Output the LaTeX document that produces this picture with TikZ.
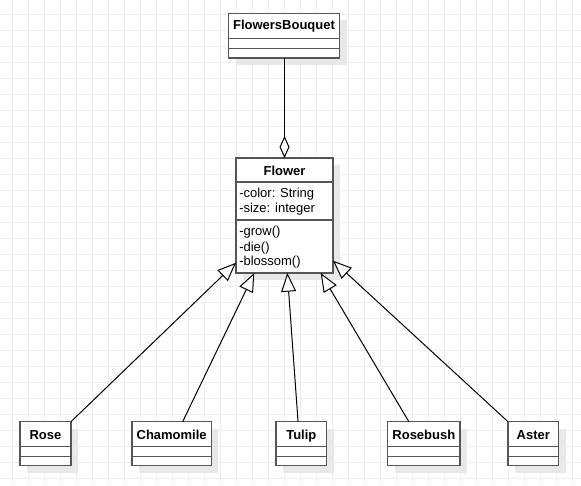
\documentclass[tikz,border=0pt]{standalone}
\usepackage{fontspec}
\setmainfont{Liberation Sans}
\usetikzlibrary{arrows.meta,calc,fit}
\definecolor{gridc}{RGB}{238,238,238}
\definecolor{shadc}{RGB}{232,232,232}
\definecolor{boxc}{RGB}{85,85,85}
\tikzset{
 clsbox/.style={draw=boxc, line width=1.1pt, fill=white, inner sep=0pt, outer sep=0pt},
 sepline/.style={draw=boxc, line width=1.1pt},
 ttl/.style={font=\fontsize{9.75pt}{11pt}\selectfont\bfseries, inner sep=0pt, anchor=base},
 member/.style={font=\fontsize{9.75pt}{11pt}\selectfont, inner sep=0pt, anchor=base west},
 gen/.style={line width=0.75pt, -{Triangle[open, length=14pt, width=11.25pt, fill=white]}},
 agg/.style={line width=0.75pt, -{Diamond[open, length=16.5pt, width=7.5pt, fill=white]}},
 gridline/.style={draw=gridc, line width=0.75pt},
}
\newcommand\umlclass[9]{%
  \fill[shadc] (#2+7,#3+7) rectangle (#4+7,#5+7);
  \node[clsbox, fit={(#2,#3) (#4,#5)}] (#1) {};
  \draw[sepline] (#2,#6) -- (#4,#6);
  \draw[sepline] (#2,#7) -- (#4,#7);
  \node[ttl] (#1-t) at ({(#2+#4)/2},#8) {#9};
}
\begin{document}
\begin{tikzpicture}[x=0.75pt,y=-0.75pt]
\useasboundingbox (0,0) rectangle (581,485);
\fill[white] (0,0) rectangle (581,485);
\foreach \gx in {12.3,28.3,...,580} \draw[gridline] (\gx,0) -- (\gx,485);
\foreach \gy in {14.3,30.3,...,484} \draw[gridline] (0,\gy) -- (581,\gy);

\umlclass{bq}{228.5}{13.3}{339.5}{58}{38.3}{48.7}{29.8}{FlowersBouquet}
\umlclass{flower}{236}{158}{333}{273}{182}{220}{175.5}{Flower}
\node[member] (m1) at (239,197.6) {-color: String};
\node[member] (m2) at (239,212.8) {-size: integer};
\node[member] (m3) at (239,235.5) {-grow()};
\node[member] (m4) at (239,251) {-die()};
\node[member] (m5) at (239,265.8) {-blossom()};

\umlclass{rose}{20}{421.7}{71}{465.7}{446.7}{456.7}{439}{Rose}
\umlclass{cham}{132}{421.7}{211.3}{465.7}{446.7}{456.7}{439}{Chamomile}
\umlclass{tulip}{276}{421.7}{326.7}{465.7}{446.7}{456.7}{439}{Tulip}
\umlclass{rosebush}{387.7}{421.7}{460}{465.7}{446.7}{456.7}{439}{Rosebush}
\umlclass{aster}{508}{421.7}{558.7}{465.7}{446.7}{456.7}{439}{Aster}

\draw[agg] (flower.north |- bq.south) -- (flower.north);
\draw[gen] (rose.north east) -- ($(flower.south west)+(0,-10.3)$);
\draw[gen] ($(cham.north)+(11,0)$) -- ($(flower.south)+(-30.2,0)$);
\draw[gen] ($(tulip.north)+(-3.3,0)$) -- ($(flower.south)+(2.8,0)$);
\draw[gen] ($(rosebush.north)+(-15,0)$) -- ($(flower.south)+(36.2,0)$);
\draw[gen] (aster.north west) -- ($(flower.south east)+(0,-12.3)$);
\end{tikzpicture}
\end{document}
